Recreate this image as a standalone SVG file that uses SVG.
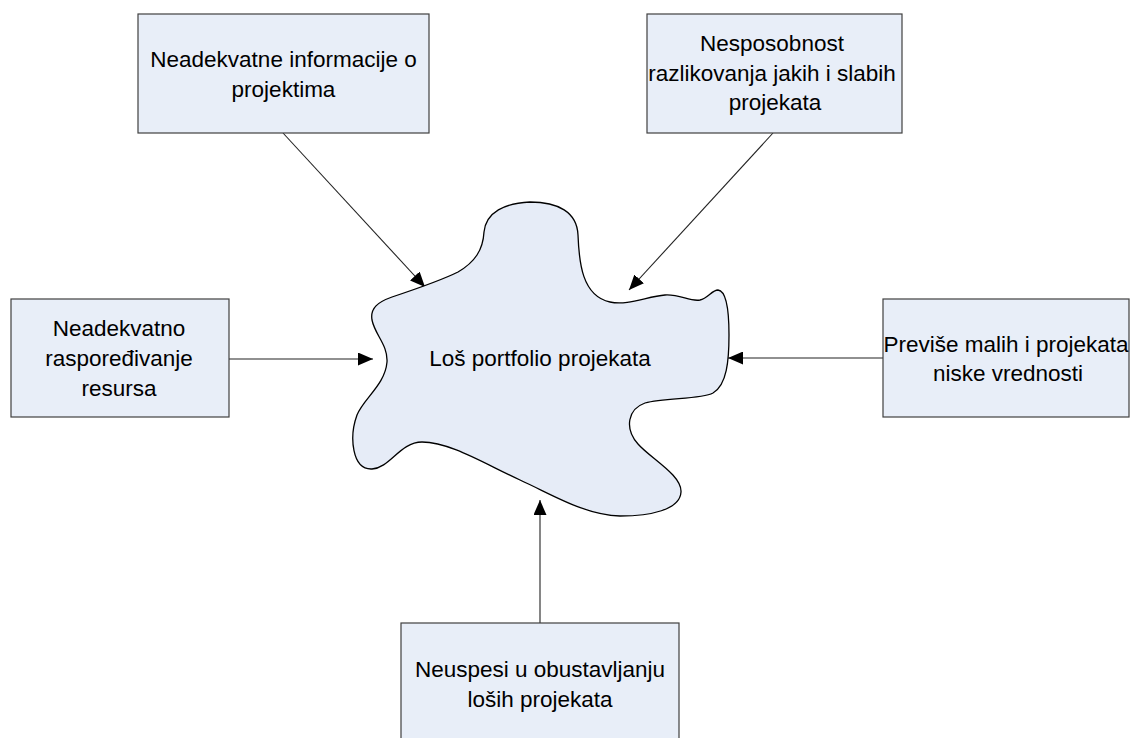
<svg xmlns="http://www.w3.org/2000/svg" width="1130" height="738" viewBox="0 0 1130 738">
<style>
.box{fill:#E8EEF8;stroke:#404040;stroke-width:1.2}
.blob{fill:#E6ECF7;stroke:#000;stroke-width:1.3}
.t{font-family:"Liberation Sans",Arial,sans-serif;font-size:22.5px;fill:#000;text-anchor:middle}
.c{stroke:#222;stroke-width:1.1;fill:none;marker-end:url(#ah)}
</style>
<defs>
<marker id="ah" markerWidth="15" markerHeight="13" refX="15" refY="6.5" orient="auto" markerUnits="userSpaceOnUse">
<path d="M0,0 L15,6.5 L0,13 Z" fill="#000"/>
</marker>
</defs>
<rect width="1130" height="738" fill="#fff"/>
<g id="connectors">
<line class="c" x1="283" y1="133" x2="425" y2="287"/>
<line class="c" x1="773" y1="133" x2="629" y2="290"/>
<line class="c" x1="229" y1="359" x2="373" y2="359"/>
<line class="c" x1="883" y1="358" x2="728" y2="358"/>
<line class="c" x1="540" y1="623" x2="540" y2="500"/>
</g>
<g id="center">
<path class="blob" d="M372,320 C370,308 378,302 392,297 C410,291 440,281 458,272 C475,262 483,250 484,232 C486,212 505,203 530,202 C558,202 577,212 578,235 C579,262 582,296 610,302 C628,306 648,296 665,295 C680,294 690,302 700,300 C708,298 712,290 718,290 C728,291 729,320 729,335 C729,360 727,385 713,393 C700,400 665,397 645,403 C628,409 624,428 638,444 C650,458 682,475 681,492 C680,510 650,516 620,516 C585,515 555,496 520,480 C485,464 450,442 422,442 C400,442 390,468 372,469 C352,470 349,437 357,415 C364,398 385,385 387,362 C388,345 375,335 372,320 Z"/>
<text class="t" x="540" y="366">Loš portfolio projekata</text>
</g>
<g id="n1">
<rect class="box" x="138" y="14" width="291" height="119"/>
<text class="t" x="283.5" y="67">Neadekvatne informacije o</text>
<text class="t" x="283.5" y="97">projektima</text>
</g>
<g id="n2">
<rect class="box" x="647" y="14" width="255" height="119"/>
<text class="t" x="772" y="51">Nesposobnost</text>
<text class="t" x="772" y="81">razlikovanja jakih i slabih</text>
<text class="t" x="775" y="110">projekata</text>
</g>
<g id="n3">
<rect class="box" x="11" y="299" width="218" height="118"/>
<text class="t" x="119" y="336">Neadekvatno</text>
<text class="t" x="119" y="366">raspoređivanje</text>
<text class="t" x="119" y="396">resursa</text>
</g>
<g id="n4">
<rect class="box" x="883" y="299" width="246" height="118"/>
<text class="t" x="1006" y="352">Previše malih i projekata</text>
<text class="t" x="1008" y="381">niske vrednosti</text>
</g>
<g id="n5">
<rect class="box" x="401" y="623" width="278" height="130"/>
<text class="t" x="540" y="677">Neuspesi u obustavljanju</text>
<text class="t" x="540" y="707">loših projekata</text>
</g>
</svg>
